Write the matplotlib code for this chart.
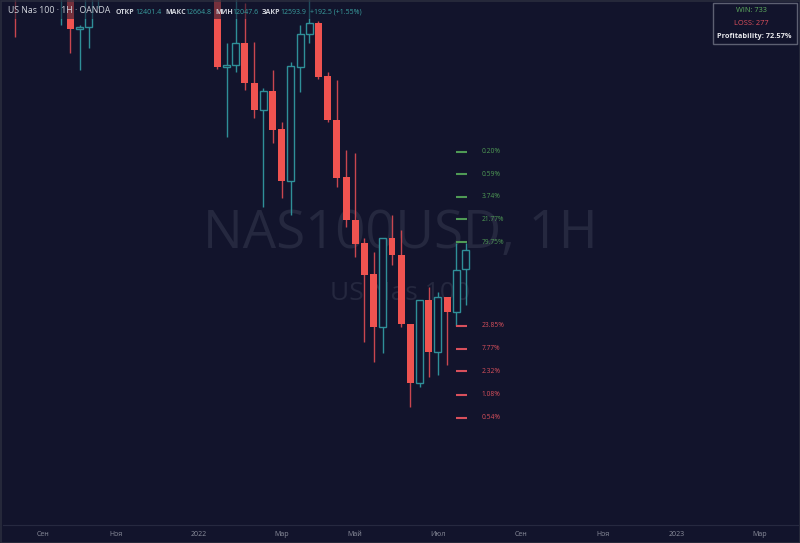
import matplotlib
matplotlib.use('Agg')
import matplotlib.pyplot as plt
import matplotlib.dates as mdates
from matplotlib.patches import Rectangle
import datetime as dt

# weekly candles, Monday of each week
dates = ['2021-08-16', '2021-09-20', '2021-09-27', '2021-10-04', '2021-10-11', '2021-10-18',
         '2022-01-17', '2022-01-24', '2022-01-31', '2022-02-07', '2022-02-14', '2022-02-21',
         '2022-02-28', '2022-03-07', '2022-03-14', '2022-03-21', '2022-03-28', '2022-04-04',
         '2022-04-11', '2022-04-18', '2022-04-25', '2022-05-02', '2022-05-09', '2022-05-16',
         '2022-05-23', '2022-05-30', '2022-06-06', '2022-06-13', '2022-06-20', '2022-06-27',
         '2022-07-04', '2022-07-11', '2022-07-18', '2022-07-25']
opens = [15350, 15150, 15300, 14793, 14813, 15200,
         15300, 14415, 14435, 14654, 14256, 13987,
         14177, 13798, 13281, 14415, 14744, 14853,
         14326, 13888, 13321, 12893, 12664, 12356,
         11828, 12714, 12545, 11858, 11271, 12097,
         11580, 12127, 11978, 12401.4]
highs = [15400, 15400, 15350, 14833, 15250, 15400,
         15350, 14654, 15100, 15052, 14664, 14206,
         14386, 13868, 14465, 14833, 15100, 14870,
         14366, 14286, 13590, 13560, 12714, 12575,
         12714, 12943, 12794, 11858, 12097, 12226,
         12177, 12127, 12664, 12664.8]
lows = [14714, 14833, 14555, 14386, 14604, 15002,
        14400, 13719, 14366, 14187, 13908, 13022,
        13659, 13112, 12943, 14167, 14654, 14300,
        13870, 13221, 12823, 12525, 11679, 11480,
        11570, 12445, 11828, 11032, 11231, 11331,
        11351, 11450, 11838, 12047.6]
closes = [15150, 15300, 14793, 14813, 15200, 15350,
          14415, 14435, 14654, 14256, 13987, 14177,
          13789, 13281, 14425, 14744, 14853, 14316,
          13888, 13311, 12893, 12654, 12346, 11828,
          12714, 12545, 11858, 11271, 12097, 11580,
          12127, 11978, 12396, 12593.9]

# probability levels next to the last candle
up_levels = [13570, 13346, 13122, 12898, 12670]
up_labels = ['0.20%', '0.59%', '3.74%', '21.77%', '79.75%']
down_levels = [11843, 11610, 11386, 11152, 10923]
down_labels = ['23.85%', '7.77%', '2.32%', '1.08%', '0.54%']

tick_dates = ['2021-09-06', '2021-11-01', '2022-01-03', '2022-03-07', '2022-05-02',
              '2022-07-04', '2022-09-05', '2022-11-07', '2023-01-02', '2023-03-06']
tick_labels = ['Сен', 'Ноя', '2022', 'Мар', 'Май', 'Июл', 'Сен', 'Ноя', '2023', 'Мар']

wins, losses, profitability = 733, 277, 72.57

bg = '#12142c'
up_col = '#2f8f98'
down_col = '#ef5350'
lvl_green = '#4f9a55'
lvl_red = '#d8505c'

plt.rcParams['font.family'] = ['Open Sans', 'DejaVu Sans']

W, H = 800, 543
fig = plt.figure(figsize=(8, 5.43), dpi=100, facecolor=bg)
ax = fig.add_axes([3 / W, 18 / H, 795 / W, 525 / H])
ax.set_facecolor(bg)

def fx(px):
    return px / W

def fy(py):
    return 1 - py / H

x = mdates.date2num([dt.datetime.strptime(d, '%Y-%m-%d') for d in dates])
body_w = 5.3
for xi, o, h, l, c in zip(x, opens, highs, lows, closes):
    if c >= o:
        ax.vlines(xi, l, h, color=up_col, lw=1, zorder=2)
        ax.add_patch(Rectangle((xi - body_w / 2, o), body_w, max(c - o, 8),
                               facecolor=bg, edgecolor=up_col, lw=1, zorder=3))
    else:
        ax.vlines(xi, l, h, color='#c9464f', lw=1, zorder=2)
        ax.add_patch(Rectangle((xi - body_w / 2, c), body_w, o - c,
                               facecolor=down_col, edgecolor='none', zorder=3))

last = x[-1]
for lvl, lab in zip(up_levels, up_labels):
    ax.hlines(lvl, last - 7.5, last + 0.8, color=lvl_green, lw=1.5, zorder=4)
    ax.text(last + 12.5, lvl, lab, color=lvl_green, fontsize=4.8, va='center', ha='left')
for lvl, lab in zip(down_levels, down_labels):
    ax.hlines(lvl, last - 7.5, last + 0.8, color=lvl_red, lw=1.5, zorder=4)
    ax.text(last + 12.5, lvl, lab, color=lvl_red, fontsize=4.8, va='center', ha='left')

# axis scale: Jan 3 2022 at pixel 199, 9.19 px per week
ref = mdates.date2num(dt.datetime(2022, 1, 3))
ppd = 9.19 / 7
ax.set_xlim(ref + (3 - 199) / ppd, ref + (798 - 199) / ppd)
ax.set_ylim(15082 - 9.95 * 525, 15082)

tx = mdates.date2num([dt.datetime.strptime(d, '%Y-%m-%d') for d in tick_dates])
ax.set_xticks(tx)
ax.set_xticklabels(tick_labels)
ax.tick_params(axis='x', length=0, colors='#8b8e9c', labelsize=5, pad=4)
ax.set_yticks([])
for s in ['top', 'left', 'right']:
    ax.spines[s].set_visible(False)
ax.spines['bottom'].set_color('#262940')

# watermark
fig.text(0.5, fy(234), 'NAS100USD, 1H', ha='center', va='center', fontsize=38,
         color='#25283f', zorder=0.5)
fig.text(0.5, fy(294), 'US Nas 100', ha='center', va='center', fontsize=19,
         color='#25283f', zorder=0.5)
for t in fig.texts:
    t.set_zorder(-1)
ax.set_zorder(1)
ax.patch.set_alpha(0)

# header legend
fig.patches.append(Rectangle((fx(5), fy(19)), fx(366) - fx(5), fy(2) - fy(19),
                             transform=fig.transFigure, facecolor=bg, alpha=0.55,
                             edgecolor='none', zorder=5))
fig.text(fx(8), fy(10.5), 'US Nas 100 · 1H · OANDA', color='#d1d4dc', fontsize=6.3,
         va='center', ha='left', zorder=6)
pieces = [(116, 'ОТКР', True), (135, '12401.4', False), (165, 'МАКС', True),
          (185, '12664.8', False), (215, 'МИН', True), (232, '12047.6', False),
          (262, 'ЗАКР', True), (280, '12593.9', False), (310, '+192.5 (+1.55%)', False)]
for px, s, bold in pieces:
    fig.text(fx(px), fy(12), s, color='#d1d4dc' if bold else '#3a9fa0',
             fontsize=5, fontweight='bold' if bold else 'normal',
             va='center', ha='left', zorder=6)

# win / loss box
fig.patches.append(Rectangle((fx(713), fy(44)), fx(797) - fx(713), fy(3) - fy(44),
                             transform=fig.transFigure, facecolor=bg,
                             edgecolor='#5d6072', lw=1, zorder=5))
fig.text(fx(751), fy(10.5), f'WIN: {wins}', color='#5fae5f', fontsize=5.3,
         ha='center', va='center', zorder=6)
fig.text(fx(751), fy(23.5), f'LOSS: {losses}', color='#e0505c', fontsize=5.3,
         ha='center', va='center', zorder=6)
fig.text(fx(754), fy(36), f'Profitability: {profitability:.2f}%', color='#e8e8ec',
         fontsize=5.3, fontweight='bold', ha='center', va='center', zorder=6)

# screen border
fig.patches.append(Rectangle((0.5 / W, 0.5 / H), 1 - 1 / W, 1 - 1 / H,
                             transform=fig.transFigure, facecolor='none',
                             edgecolor='#2a2d3e', lw=1.2, zorder=7))

fig.savefig('out.png', dpi=100, facecolor=bg)
